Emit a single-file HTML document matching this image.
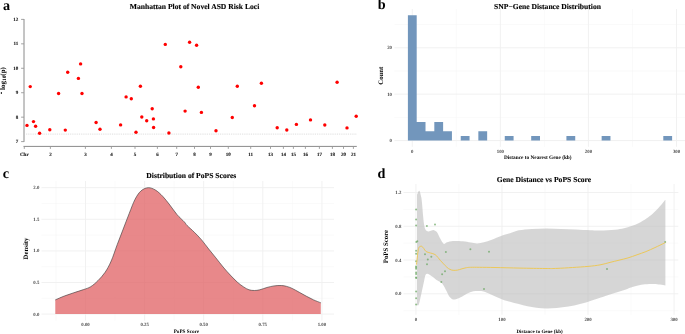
<!DOCTYPE html>
<html><head><meta charset="utf-8"><style>
html,body{margin:0;padding:0;background:#fff;width:685px;height:334px;overflow:hidden}
svg{display:block;will-change:transform}
text{font-family:"Liberation Serif",serif;text-rendering:geometricPrecision}
</style></head><body>
<svg width="685" height="334" viewBox="0 0 685 334">
<rect width="685" height="334" fill="#fff"/>
<text x="3.10" y="9.50" font-size="14.2" text-anchor="start" font-weight="bold" fill="#000">a</text>
<text x="194.50" y="8.70" font-size="7.6" text-anchor="middle" font-weight="bold" fill="#000" stroke="#000" stroke-width="0.12">Manhattan Plot of Novel ASD Risk Loci</text>
<line x1="24.00" y1="19.00" x2="24.00" y2="141.90" stroke="#8a8a8a" stroke-width="1.0" />
<line x1="21.10" y1="141.60" x2="24.00" y2="141.60" stroke="#999" stroke-width="0.9" />
<text x="18.30" y="143.10" font-size="5.0" text-anchor="end" font-weight="bold" fill="#1a1a1a" stroke="#1a1a1a" stroke-width="0.12">7</text>
<line x1="21.10" y1="117.16" x2="24.00" y2="117.16" stroke="#999" stroke-width="0.9" />
<text x="18.30" y="118.66" font-size="5.0" text-anchor="end" font-weight="bold" fill="#1a1a1a" stroke="#1a1a1a" stroke-width="0.12">8</text>
<line x1="21.10" y1="92.72" x2="24.00" y2="92.72" stroke="#999" stroke-width="0.9" />
<text x="18.30" y="94.22" font-size="5.0" text-anchor="end" font-weight="bold" fill="#1a1a1a" stroke="#1a1a1a" stroke-width="0.12">9</text>
<line x1="21.10" y1="68.28" x2="24.00" y2="68.28" stroke="#999" stroke-width="0.9" />
<text x="18.30" y="69.78" font-size="5.0" text-anchor="end" font-weight="bold" fill="#1a1a1a" stroke="#1a1a1a" stroke-width="0.12">10</text>
<line x1="21.10" y1="43.84" x2="24.00" y2="43.84" stroke="#999" stroke-width="0.9" />
<text x="18.30" y="45.34" font-size="5.0" text-anchor="end" font-weight="bold" fill="#1a1a1a" stroke="#1a1a1a" stroke-width="0.12">11</text>
<line x1="21.10" y1="19.40" x2="24.00" y2="19.40" stroke="#999" stroke-width="0.9" />
<text x="18.30" y="20.90" font-size="5.0" text-anchor="end" font-weight="bold" fill="#1a1a1a" stroke="#1a1a1a" stroke-width="0.12">12</text>
<line x1="23.50" y1="146.40" x2="356.80" y2="146.40" stroke="#8a8a8a" stroke-width="1.0" />
<line x1="24.30" y1="146.40" x2="24.30" y2="148.90" stroke="#999" stroke-width="0.9" />
<text x="24.30" y="156.20" font-size="5.0" text-anchor="middle" font-weight="bold" fill="#1a1a1a" stroke="#1a1a1a" stroke-width="0.12">Chr</text>
<line x1="50.40" y1="146.40" x2="50.40" y2="148.90" stroke="#999" stroke-width="0.9" />
<text x="50.40" y="156.20" font-size="5.0" text-anchor="middle" font-weight="bold" fill="#1a1a1a" stroke="#1a1a1a" stroke-width="0.12">2</text>
<line x1="85.40" y1="146.40" x2="85.40" y2="148.90" stroke="#999" stroke-width="0.9" />
<text x="85.40" y="156.20" font-size="5.0" text-anchor="middle" font-weight="bold" fill="#1a1a1a" stroke="#1a1a1a" stroke-width="0.12">3</text>
<line x1="111.40" y1="146.40" x2="111.40" y2="148.90" stroke="#999" stroke-width="0.9" />
<text x="111.40" y="156.20" font-size="5.0" text-anchor="middle" font-weight="bold" fill="#1a1a1a" stroke="#1a1a1a" stroke-width="0.12">4</text>
<line x1="135.00" y1="146.40" x2="135.00" y2="148.90" stroke="#999" stroke-width="0.9" />
<text x="135.00" y="156.20" font-size="5.0" text-anchor="middle" font-weight="bold" fill="#1a1a1a" stroke="#1a1a1a" stroke-width="0.12">5</text>
<line x1="157.40" y1="146.40" x2="157.40" y2="148.90" stroke="#999" stroke-width="0.9" />
<text x="157.40" y="156.20" font-size="5.0" text-anchor="middle" font-weight="bold" fill="#1a1a1a" stroke="#1a1a1a" stroke-width="0.12">6</text>
<line x1="176.70" y1="146.40" x2="176.70" y2="148.90" stroke="#999" stroke-width="0.9" />
<text x="176.70" y="156.20" font-size="5.0" text-anchor="middle" font-weight="bold" fill="#1a1a1a" stroke="#1a1a1a" stroke-width="0.12">7</text>
<line x1="194.50" y1="146.40" x2="194.50" y2="148.90" stroke="#999" stroke-width="0.9" />
<text x="194.50" y="156.20" font-size="5.0" text-anchor="middle" font-weight="bold" fill="#1a1a1a" stroke="#1a1a1a" stroke-width="0.12">8</text>
<line x1="210.50" y1="146.40" x2="210.50" y2="148.90" stroke="#999" stroke-width="0.9" />
<text x="210.50" y="156.20" font-size="5.0" text-anchor="middle" font-weight="bold" fill="#1a1a1a" stroke="#1a1a1a" stroke-width="0.12">9</text>
<line x1="228.30" y1="146.40" x2="228.30" y2="148.90" stroke="#999" stroke-width="0.9" />
<text x="228.30" y="156.20" font-size="5.0" text-anchor="middle" font-weight="bold" fill="#1a1a1a" stroke="#1a1a1a" stroke-width="0.12">10</text>
<line x1="250.70" y1="146.40" x2="250.70" y2="148.90" stroke="#999" stroke-width="0.9" />
<text x="250.70" y="156.20" font-size="5.0" text-anchor="middle" font-weight="bold" fill="#1a1a1a" stroke="#1a1a1a" stroke-width="0.12">11</text>
<line x1="270.50" y1="146.40" x2="270.50" y2="148.90" stroke="#999" stroke-width="0.9" />
<text x="270.50" y="156.20" font-size="5.0" text-anchor="middle" font-weight="bold" fill="#1a1a1a" stroke="#1a1a1a" stroke-width="0.12">13</text>
<line x1="283.40" y1="146.40" x2="283.40" y2="148.90" stroke="#999" stroke-width="0.9" />
<text x="283.40" y="156.20" font-size="5.0" text-anchor="middle" font-weight="bold" fill="#1a1a1a" stroke="#1a1a1a" stroke-width="0.12">14</text>
<line x1="293.40" y1="146.40" x2="293.40" y2="148.90" stroke="#999" stroke-width="0.9" />
<text x="293.40" y="156.20" font-size="5.0" text-anchor="middle" font-weight="bold" fill="#1a1a1a" stroke="#1a1a1a" stroke-width="0.12">15</text>
<line x1="305.40" y1="146.40" x2="305.40" y2="148.90" stroke="#999" stroke-width="0.9" />
<text x="305.40" y="156.20" font-size="5.0" text-anchor="middle" font-weight="bold" fill="#1a1a1a" stroke="#1a1a1a" stroke-width="0.12">16</text>
<line x1="319.40" y1="146.40" x2="319.40" y2="148.90" stroke="#999" stroke-width="0.9" />
<text x="319.40" y="156.20" font-size="5.0" text-anchor="middle" font-weight="bold" fill="#1a1a1a" stroke="#1a1a1a" stroke-width="0.12">17</text>
<line x1="332.40" y1="146.40" x2="332.40" y2="148.90" stroke="#999" stroke-width="0.9" />
<text x="332.40" y="156.20" font-size="5.0" text-anchor="middle" font-weight="bold" fill="#1a1a1a" stroke="#1a1a1a" stroke-width="0.12">18</text>
<line x1="343.50" y1="146.40" x2="343.50" y2="148.90" stroke="#999" stroke-width="0.9" />
<text x="343.50" y="156.20" font-size="5.0" text-anchor="middle" font-weight="bold" fill="#1a1a1a" stroke="#1a1a1a" stroke-width="0.12">20</text>
<line x1="353.40" y1="146.40" x2="353.40" y2="148.90" stroke="#999" stroke-width="0.9" />
<text x="353.40" y="156.20" font-size="5.0" text-anchor="middle" font-weight="bold" fill="#1a1a1a" stroke="#1a1a1a" stroke-width="0.12">21</text>
<line x1="26.00" y1="134.10" x2="356.50" y2="134.10" stroke="#d0d0d0" stroke-width="0.8" stroke-dasharray="0.9 0.93"/>
<text x="4.9" y="89.9" font-size="7" font-weight="bold" fill="#000" transform="rotate(-90 4.9 89.9)">log<tspan font-size="5.3" dy="0.8">10</tspan><tspan dy="-0.8">(p)</tspan></text>
<line x1="1.35" y1="92.0" x2="1.35" y2="94.0" stroke="#000" stroke-width="0.9"/>
<circle cx="27.0" cy="125.4" r="1.7" fill="#ff0000"/>
<circle cx="30.25" cy="86.6" r="1.7" fill="#ff0000"/>
<circle cx="33.5" cy="121.6" r="1.7" fill="#ff0000"/>
<circle cx="35.6" cy="126.3" r="1.7" fill="#ff0000"/>
<circle cx="39.6" cy="133.3" r="1.7" fill="#ff0000"/>
<circle cx="49.8" cy="129.7" r="1.7" fill="#ff0000"/>
<circle cx="58.6" cy="93.5" r="1.7" fill="#ff0000"/>
<circle cx="65.3" cy="130.1" r="1.7" fill="#ff0000"/>
<circle cx="67.7" cy="72.2" r="1.7" fill="#ff0000"/>
<circle cx="78.4" cy="78.4" r="1.7" fill="#ff0000"/>
<circle cx="80.6" cy="63.9" r="1.7" fill="#ff0000"/>
<circle cx="82.0" cy="93.5" r="1.7" fill="#ff0000"/>
<circle cx="96.1" cy="122.5" r="1.7" fill="#ff0000"/>
<circle cx="100.0" cy="129.2" r="1.7" fill="#ff0000"/>
<circle cx="120.6" cy="124.9" r="1.7" fill="#ff0000"/>
<circle cx="126.1" cy="96.9" r="1.7" fill="#ff0000"/>
<circle cx="131.3" cy="98.8" r="1.7" fill="#ff0000"/>
<circle cx="136.0" cy="132.2" r="1.7" fill="#ff0000"/>
<circle cx="140.4" cy="86.3" r="1.7" fill="#ff0000"/>
<circle cx="141.8" cy="117.0" r="1.7" fill="#ff0000"/>
<circle cx="146.7" cy="120.7" r="1.7" fill="#ff0000"/>
<circle cx="152.2" cy="108.7" r="1.7" fill="#ff0000"/>
<circle cx="153.4" cy="118.9" r="1.7" fill="#ff0000"/>
<circle cx="153.6" cy="127.5" r="1.7" fill="#ff0000"/>
<circle cx="165.3" cy="44.4" r="1.7" fill="#ff0000"/>
<circle cx="168.9" cy="133.0" r="1.7" fill="#ff0000"/>
<circle cx="180.8" cy="66.8" r="1.7" fill="#ff0000"/>
<circle cx="185.1" cy="111.1" r="1.7" fill="#ff0000"/>
<circle cx="189.6" cy="42.2" r="1.7" fill="#ff0000"/>
<circle cx="196.6" cy="45.3" r="1.7" fill="#ff0000"/>
<circle cx="198.3" cy="87.3" r="1.7" fill="#ff0000"/>
<circle cx="201.4" cy="112.4" r="1.7" fill="#ff0000"/>
<circle cx="216.0" cy="130.8" r="1.7" fill="#ff0000"/>
<circle cx="232.3" cy="117.5" r="1.7" fill="#ff0000"/>
<circle cx="237.3" cy="86.3" r="1.7" fill="#ff0000"/>
<circle cx="254.5" cy="105.8" r="1.7" fill="#ff0000"/>
<circle cx="261.4" cy="83.2" r="1.7" fill="#ff0000"/>
<circle cx="277.2" cy="127.7" r="1.7" fill="#ff0000"/>
<circle cx="286.8" cy="130.0" r="1.7" fill="#ff0000"/>
<circle cx="296.4" cy="124.4" r="1.7" fill="#ff0000"/>
<circle cx="310.5" cy="119.9" r="1.7" fill="#ff0000"/>
<circle cx="324.8" cy="125.0" r="1.7" fill="#ff0000"/>
<circle cx="337.1" cy="82.2" r="1.7" fill="#ff0000"/>
<circle cx="347.0" cy="127.9" r="1.7" fill="#ff0000"/>
<circle cx="356.2" cy="116.2" r="1.7" fill="#ff0000"/>
<text x="377.70" y="9.40" font-size="14.2" text-anchor="start" font-weight="bold" fill="#000">b</text>
<text x="547.50" y="8.60" font-size="7.6" text-anchor="middle" font-weight="bold" fill="#000" stroke="#000" stroke-width="0.12">SNP−Gene Distance Distribution</text>
<line x1="394.40" y1="117.35" x2="685.50" y2="117.35" stroke="#f5f5f5" stroke-width="0.5" />
<line x1="394.40" y1="70.95" x2="685.50" y2="70.95" stroke="#f5f5f5" stroke-width="0.5" />
<line x1="394.40" y1="24.55" x2="685.50" y2="24.55" stroke="#f5f5f5" stroke-width="0.5" />
<line x1="456.34" y1="9.00" x2="456.34" y2="146.80" stroke="#f5f5f5" stroke-width="0.5" />
<line x1="544.40" y1="9.00" x2="544.40" y2="146.80" stroke="#f5f5f5" stroke-width="0.5" />
<line x1="632.48" y1="9.00" x2="632.48" y2="146.80" stroke="#f5f5f5" stroke-width="0.5" />
<line x1="394.40" y1="140.55" x2="685.50" y2="140.55" stroke="#efefef" stroke-width="0.9" />
<text x="392.00" y="142.05" font-size="4.8" text-anchor="end" font-weight="bold" fill="#4d4d4d">0</text>
<line x1="394.40" y1="94.15" x2="685.50" y2="94.15" stroke="#efefef" stroke-width="0.9" />
<text x="392.00" y="95.65" font-size="4.8" text-anchor="end" font-weight="bold" fill="#4d4d4d">10</text>
<line x1="394.40" y1="47.75" x2="685.50" y2="47.75" stroke="#efefef" stroke-width="0.9" />
<text x="392.00" y="49.25" font-size="4.8" text-anchor="end" font-weight="bold" fill="#4d4d4d">20</text>
<line x1="412.30" y1="9.00" x2="412.30" y2="146.80" stroke="#efefef" stroke-width="0.9" />
<text x="412.30" y="152.80" font-size="4.8" text-anchor="middle" font-weight="bold" fill="#4d4d4d">0</text>
<line x1="500.37" y1="9.00" x2="500.37" y2="146.80" stroke="#efefef" stroke-width="0.9" />
<text x="500.37" y="152.80" font-size="4.8" text-anchor="middle" font-weight="bold" fill="#4d4d4d">100</text>
<line x1="588.44" y1="9.00" x2="588.44" y2="146.80" stroke="#efefef" stroke-width="0.9" />
<text x="588.44" y="152.80" font-size="4.8" text-anchor="middle" font-weight="bold" fill="#4d4d4d">200</text>
<line x1="676.51" y1="9.00" x2="676.51" y2="146.80" stroke="#efefef" stroke-width="0.9" />
<text x="676.51" y="152.80" font-size="4.8" text-anchor="middle" font-weight="bold" fill="#4d4d4d">300</text>
<path d="M407.90,140.55 V15.27 H416.70 V140.55 Z M416.70,140.55 V121.99 H425.51 V140.55 Z M425.51,140.55 V131.27 H434.32 V140.55 Z M434.32,140.55 V121.99 H443.12 V140.55 Z M443.12,140.55 V131.27 H451.93 V140.55 Z M460.74,140.55 V135.91 H469.55 V140.55 Z M478.35,140.55 V131.27 H487.16 V140.55 Z M504.77,140.55 V135.91 H513.58 V140.55 Z M531.19,140.55 V135.91 H540.00 V140.55 Z M566.42,140.55 V135.91 H575.23 V140.55 Z M601.65,140.55 V135.91 H610.46 V140.55 Z M663.30,140.55 V135.91 H672.11 V140.55 Z" fill="#7296bc"/>
<text x="537.80" y="158.70" font-size="5.3" text-anchor="middle" font-weight="bold" fill="#000">Distance to Nearest Gene (kb)</text>
<text x="383.40" y="75.70" font-size="6.8" text-anchor="middle" font-weight="bold" fill="#000" transform="rotate(-90 383.4 75.7)">Count</text>
<text x="2.70" y="178.00" font-size="14.2" text-anchor="start" font-weight="bold" fill="#000">c</text>
<text x="191.30" y="178.40" font-size="7.6" text-anchor="middle" font-weight="bold" fill="#000" stroke="#000" stroke-width="0.12">Distribution of PoPS Scores</text>
<line x1="41.50" y1="298.30" x2="334.00" y2="298.30" stroke="#f5f5f5" stroke-width="0.5" />
<line x1="41.50" y1="266.70" x2="334.00" y2="266.70" stroke="#f5f5f5" stroke-width="0.5" />
<line x1="41.50" y1="235.10" x2="334.00" y2="235.10" stroke="#f5f5f5" stroke-width="0.5" />
<line x1="41.50" y1="203.50" x2="334.00" y2="203.50" stroke="#f5f5f5" stroke-width="0.5" />
<line x1="55.95" y1="181.00" x2="55.95" y2="320.60" stroke="#f5f5f5" stroke-width="0.5" />
<line x1="115.05" y1="181.00" x2="115.05" y2="320.60" stroke="#f5f5f5" stroke-width="0.5" />
<line x1="174.15" y1="181.00" x2="174.15" y2="320.60" stroke="#f5f5f5" stroke-width="0.5" />
<line x1="233.25" y1="181.00" x2="233.25" y2="320.60" stroke="#f5f5f5" stroke-width="0.5" />
<line x1="292.35" y1="181.00" x2="292.35" y2="320.60" stroke="#f5f5f5" stroke-width="0.5" />
<line x1="41.50" y1="314.10" x2="334.00" y2="314.10" stroke="#efefef" stroke-width="0.9" />
<text x="39.30" y="315.60" font-size="4.8" text-anchor="end" font-weight="bold" fill="#4d4d4d">0.0</text>
<line x1="41.50" y1="282.50" x2="334.00" y2="282.50" stroke="#efefef" stroke-width="0.9" />
<text x="39.30" y="284.00" font-size="4.8" text-anchor="end" font-weight="bold" fill="#4d4d4d">0.5</text>
<line x1="41.50" y1="250.90" x2="334.00" y2="250.90" stroke="#efefef" stroke-width="0.9" />
<text x="39.30" y="252.40" font-size="4.8" text-anchor="end" font-weight="bold" fill="#4d4d4d">1.0</text>
<line x1="41.50" y1="219.30" x2="334.00" y2="219.30" stroke="#efefef" stroke-width="0.9" />
<text x="39.30" y="220.80" font-size="4.8" text-anchor="end" font-weight="bold" fill="#4d4d4d">1.5</text>
<line x1="41.50" y1="187.70" x2="334.00" y2="187.70" stroke="#efefef" stroke-width="0.9" />
<text x="39.30" y="189.20" font-size="4.8" text-anchor="end" font-weight="bold" fill="#4d4d4d">2.0</text>
<line x1="85.50" y1="181.00" x2="85.50" y2="320.60" stroke="#efefef" stroke-width="0.9" />
<text x="85.50" y="326.30" font-size="4.8" text-anchor="middle" font-weight="bold" fill="#4d4d4d">0.00</text>
<line x1="144.60" y1="181.00" x2="144.60" y2="320.60" stroke="#efefef" stroke-width="0.9" />
<text x="144.60" y="326.30" font-size="4.8" text-anchor="middle" font-weight="bold" fill="#4d4d4d">0.25</text>
<line x1="203.70" y1="181.00" x2="203.70" y2="320.60" stroke="#efefef" stroke-width="0.9" />
<text x="203.70" y="326.30" font-size="4.8" text-anchor="middle" font-weight="bold" fill="#4d4d4d">0.50</text>
<line x1="262.80" y1="181.00" x2="262.80" y2="320.60" stroke="#efefef" stroke-width="0.9" />
<text x="262.80" y="326.30" font-size="4.8" text-anchor="middle" font-weight="bold" fill="#4d4d4d">0.75</text>
<line x1="321.90" y1="181.00" x2="321.90" y2="320.60" stroke="#efefef" stroke-width="0.9" />
<text x="321.90" y="326.30" font-size="4.8" text-anchor="middle" font-weight="bold" fill="#4d4d4d">1.00</text>
<path d="M55.3,299.9 C56.82,299.25 61.28,297.20 64.40,296.00 C67.52,294.80 70.82,293.77 74.00,292.70 C77.18,291.63 80.72,290.60 83.50,289.60 C86.28,288.60 88.30,288.18 90.70,286.70 C93.10,285.22 95.50,283.10 97.90,280.70 C100.30,278.30 102.88,275.58 105.10,272.30 C107.32,269.02 109.18,265.60 111.20,261.00 C113.22,256.40 115.20,250.02 117.20,244.70 C119.20,239.38 121.20,234.30 123.20,229.10 C125.20,223.90 127.22,218.48 129.20,213.50 C131.18,208.52 133.12,202.98 135.10,199.20 C137.08,195.42 138.90,192.72 141.10,190.80 C143.30,188.88 145.90,187.82 148.30,187.70 C150.70,187.58 153.10,188.67 155.50,190.10 C157.90,191.53 160.30,193.80 162.70,196.30 C165.10,198.80 167.50,202.03 169.90,205.10 C172.30,208.17 174.70,211.90 177.10,214.70 C179.50,217.50 182.62,220.08 184.30,221.90 C185.98,223.72 185.52,223.87 187.20,225.60 C188.88,227.33 192.00,229.92 194.40,232.30 C196.80,234.68 199.22,237.12 201.60,239.90 C203.98,242.68 206.32,246.00 208.70,249.00 C211.08,252.00 213.50,254.90 215.90,257.90 C218.30,260.90 220.70,264.13 223.10,267.00 C225.50,269.87 227.90,272.55 230.30,275.10 C232.70,277.65 235.28,280.33 237.50,282.30 C239.72,284.27 241.68,285.65 243.60,286.90 C245.52,288.15 247.20,289.20 249.00,289.80 C250.80,290.40 252.60,290.50 254.40,290.50 C256.20,290.50 257.72,290.30 259.80,289.80 C261.88,289.30 264.52,288.15 266.90,287.50 C269.28,286.85 271.70,286.23 274.10,285.90 C276.50,285.57 279.20,285.42 281.30,285.50 C283.40,285.58 284.90,285.92 286.70,286.40 C288.50,286.88 290.00,287.42 292.10,288.40 C294.20,289.38 296.90,290.98 299.30,292.30 C301.70,293.62 304.12,295.03 306.50,296.30 C308.88,297.57 311.22,298.82 313.60,299.90 C315.98,300.98 319.60,302.32 320.80,302.80 L320.8,314.1 L55.3,314.1 Z" fill="#e06063" fill-opacity="0.75"/>
<path d="M55.3,299.9 C56.82,299.25 61.28,297.20 64.40,296.00 C67.52,294.80 70.82,293.77 74.00,292.70 C77.18,291.63 80.72,290.60 83.50,289.60 C86.28,288.60 88.30,288.18 90.70,286.70 C93.10,285.22 95.50,283.10 97.90,280.70 C100.30,278.30 102.88,275.58 105.10,272.30 C107.32,269.02 109.18,265.60 111.20,261.00 C113.22,256.40 115.20,250.02 117.20,244.70 C119.20,239.38 121.20,234.30 123.20,229.10 C125.20,223.90 127.22,218.48 129.20,213.50 C131.18,208.52 133.12,202.98 135.10,199.20 C137.08,195.42 138.90,192.72 141.10,190.80 C143.30,188.88 145.90,187.82 148.30,187.70 C150.70,187.58 153.10,188.67 155.50,190.10 C157.90,191.53 160.30,193.80 162.70,196.30 C165.10,198.80 167.50,202.03 169.90,205.10 C172.30,208.17 174.70,211.90 177.10,214.70 C179.50,217.50 182.62,220.08 184.30,221.90 C185.98,223.72 185.52,223.87 187.20,225.60 C188.88,227.33 192.00,229.92 194.40,232.30 C196.80,234.68 199.22,237.12 201.60,239.90 C203.98,242.68 206.32,246.00 208.70,249.00 C211.08,252.00 213.50,254.90 215.90,257.90 C218.30,260.90 220.70,264.13 223.10,267.00 C225.50,269.87 227.90,272.55 230.30,275.10 C232.70,277.65 235.28,280.33 237.50,282.30 C239.72,284.27 241.68,285.65 243.60,286.90 C245.52,288.15 247.20,289.20 249.00,289.80 C250.80,290.40 252.60,290.50 254.40,290.50 C256.20,290.50 257.72,290.30 259.80,289.80 C261.88,289.30 264.52,288.15 266.90,287.50 C269.28,286.85 271.70,286.23 274.10,285.90 C276.50,285.57 279.20,285.42 281.30,285.50 C283.40,285.58 284.90,285.92 286.70,286.40 C288.50,286.88 290.00,287.42 292.10,288.40 C294.20,289.38 296.90,290.98 299.30,292.30 C301.70,293.62 304.12,295.03 306.50,296.30 C308.88,297.57 311.22,298.82 313.60,299.90 C315.98,300.98 319.60,302.32 320.80,302.80" fill="none" stroke="#333" stroke-width="0.6"/>
<text x="186.40" y="332.50" font-size="5.2" text-anchor="middle" font-weight="bold" fill="#000">PoPS Score</text>
<text x="28.00" y="248.50" font-size="6.8" text-anchor="middle" font-weight="bold" fill="#000" transform="rotate(-90 28.0 248.5)">Density</text>
<text x="377.60" y="177.80" font-size="14.2" text-anchor="start" font-weight="bold" fill="#000">d</text>
<text x="544.00" y="182.40" font-size="7.6" text-anchor="middle" font-weight="bold" fill="#000" stroke="#000" stroke-width="0.12">Gene Distance vs PoPS Score</text>
<line x1="403.50" y1="310.68" x2="678.30" y2="310.68" stroke="#f5f5f5" stroke-width="0.5" />
<line x1="403.50" y1="276.92" x2="678.30" y2="276.92" stroke="#f5f5f5" stroke-width="0.5" />
<line x1="403.50" y1="243.16" x2="678.30" y2="243.16" stroke="#f5f5f5" stroke-width="0.5" />
<line x1="403.50" y1="209.40" x2="678.30" y2="209.40" stroke="#f5f5f5" stroke-width="0.5" />
<line x1="458.92" y1="184.00" x2="458.92" y2="314.80" stroke="#f5f5f5" stroke-width="0.5" />
<line x1="544.98" y1="184.00" x2="544.98" y2="314.80" stroke="#f5f5f5" stroke-width="0.5" />
<line x1="631.02" y1="184.00" x2="631.02" y2="314.80" stroke="#f5f5f5" stroke-width="0.5" />
<line x1="403.50" y1="293.80" x2="678.30" y2="293.80" stroke="#efefef" stroke-width="0.9" />
<text x="401.30" y="295.30" font-size="4.8" text-anchor="end" font-weight="bold" fill="#4d4d4d">0.0</text>
<line x1="403.50" y1="260.04" x2="678.30" y2="260.04" stroke="#efefef" stroke-width="0.9" />
<text x="401.30" y="261.54" font-size="4.8" text-anchor="end" font-weight="bold" fill="#4d4d4d">0.4</text>
<line x1="403.50" y1="226.28" x2="678.30" y2="226.28" stroke="#efefef" stroke-width="0.9" />
<text x="401.30" y="227.78" font-size="4.8" text-anchor="end" font-weight="bold" fill="#4d4d4d">0.8</text>
<line x1="403.50" y1="192.52" x2="678.30" y2="192.52" stroke="#efefef" stroke-width="0.9" />
<text x="401.30" y="194.02" font-size="4.8" text-anchor="end" font-weight="bold" fill="#4d4d4d">1.2</text>
<line x1="415.90" y1="184.00" x2="415.90" y2="314.80" stroke="#efefef" stroke-width="0.9" />
<text x="415.90" y="320.50" font-size="4.8" text-anchor="middle" font-weight="bold" fill="#4d4d4d">0</text>
<line x1="501.95" y1="184.00" x2="501.95" y2="314.80" stroke="#efefef" stroke-width="0.9" />
<text x="501.95" y="320.50" font-size="4.8" text-anchor="middle" font-weight="bold" fill="#4d4d4d">100</text>
<line x1="588.00" y1="184.00" x2="588.00" y2="314.80" stroke="#efefef" stroke-width="0.9" />
<text x="588.00" y="320.50" font-size="4.8" text-anchor="middle" font-weight="bold" fill="#4d4d4d">200</text>
<line x1="674.05" y1="184.00" x2="674.05" y2="314.80" stroke="#efefef" stroke-width="0.9" />
<text x="674.05" y="320.50" font-size="4.8" text-anchor="middle" font-weight="bold" fill="#4d4d4d">300</text>
<path d="M417.0,194.8 C417.38,194.13 418.60,190.43 419.30,190.80 C420.00,191.17 420.75,194.97 421.20,197.00 C421.65,199.03 421.70,200.00 422.00,203.00 C422.30,206.00 422.67,211.50 423.00,215.00 C423.33,218.50 423.67,221.77 424.00,224.00 C424.33,226.23 424.58,227.28 425.00,228.40 C425.42,229.52 425.88,230.18 426.50,230.70 C427.12,231.22 427.87,231.52 428.70,231.50 C429.53,231.48 430.63,230.82 431.50,230.60 C432.37,230.38 432.95,229.88 433.90,230.20 C434.85,230.52 436.10,231.02 437.20,232.50 C438.30,233.98 439.40,237.20 440.50,239.10 C441.60,241.00 442.72,243.37 443.80,243.90 C444.88,244.43 445.47,242.78 447.00,242.30 C448.53,241.82 450.35,241.17 453.00,241.00 C455.65,240.83 459.95,241.03 462.90,241.30 C465.85,241.57 468.30,242.25 470.70,242.60 C473.10,242.95 475.10,243.45 477.30,243.40 C479.50,243.35 481.48,242.92 483.90,242.30 C486.32,241.68 488.73,240.83 491.80,239.70 C494.87,238.57 499.27,236.58 502.30,235.50 C505.33,234.42 507.25,234.07 510.00,233.20 C512.75,232.33 515.15,231.02 518.80,230.30 C522.45,229.58 527.28,229.22 531.90,228.90 C536.52,228.58 541.63,228.40 546.50,228.40 C551.37,228.40 556.23,228.70 561.10,228.90 C565.97,229.10 570.83,229.37 575.70,229.60 C580.57,229.83 586.25,230.15 590.30,230.30 C594.35,230.45 595.88,230.60 600.00,230.50 C604.12,230.40 611.00,230.08 615.00,229.70 C619.00,229.32 621.25,228.82 624.00,228.20 C626.75,227.58 629.00,226.87 631.50,226.00 C634.00,225.13 636.52,224.25 639.00,223.00 C641.48,221.75 644.17,220.00 646.40,218.50 C648.63,217.00 650.40,215.75 652.40,214.00 C654.40,212.25 656.65,209.88 658.40,208.00 C660.15,206.12 661.73,204.07 662.90,202.70 C664.07,201.33 664.98,200.28 665.40,199.80 L665.4,285.5 C664.50,285.33 661.92,284.77 660.00,284.50 C658.08,284.23 656.40,283.93 653.90,283.90 C651.40,283.87 647.65,284.03 645.00,284.30 C642.35,284.57 640.10,285.05 638.00,285.50 C635.90,285.95 634.20,286.43 632.40,287.00 C630.60,287.57 629.60,288.07 627.20,288.90 C624.80,289.73 620.87,291.05 618.00,292.00 C615.13,292.95 612.43,293.80 610.00,294.60 C607.57,295.40 606.43,295.83 603.40,296.80 C600.37,297.77 595.70,299.18 591.80,300.40 C587.90,301.62 583.90,303.07 580.00,304.10 C576.10,305.13 572.28,305.95 568.40,306.60 C564.52,307.25 560.35,307.68 556.70,308.00 C553.05,308.32 549.90,308.55 546.50,308.50 C543.10,308.45 539.47,308.07 536.30,307.70 C533.13,307.33 530.42,306.90 527.50,306.30 C524.58,305.70 521.72,304.85 518.80,304.10 C515.88,303.35 512.75,302.55 510.00,301.80 C507.25,301.05 505.12,300.63 502.30,299.60 C499.48,298.57 495.95,296.85 493.10,295.60 C490.25,294.35 487.40,292.87 485.20,292.10 C483.00,291.33 481.87,291.13 479.90,291.00 C477.93,290.87 475.58,290.85 473.40,291.30 C471.22,291.75 469.00,292.65 466.80,293.70 C464.60,294.75 462.28,296.62 460.20,297.60 C458.12,298.58 456.05,299.72 454.30,299.60 C452.55,299.48 451.12,298.55 449.70,296.90 C448.28,295.25 447.12,292.00 445.80,289.70 C444.48,287.40 443.33,284.73 441.80,283.10 C440.27,281.47 438.33,281.08 436.60,279.90 C434.87,278.72 432.82,276.98 431.40,276.00 C429.98,275.02 429.07,274.20 428.10,274.00 C427.13,273.80 426.28,273.57 425.60,274.80 C424.92,276.03 424.68,278.38 424.00,281.40 C423.32,284.42 422.37,289.03 421.50,292.90 C420.63,296.77 419.55,302.58 418.80,304.60 C418.05,306.62 417.30,304.93 417.00,305.00 Z" fill="#bbbbbb" fill-opacity="0.6"/>
<circle cx="416.1" cy="209.6" r="1.0" fill="#66a55e" fill-opacity="0.7"/>
<circle cx="416.1" cy="219.4" r="1.0" fill="#66a55e" fill-opacity="0.7"/>
<circle cx="416.1" cy="225.4" r="1.0" fill="#66a55e" fill-opacity="0.7"/>
<circle cx="416.3" cy="241.9" r="1.0" fill="#66a55e" fill-opacity="0.7"/>
<circle cx="417.3" cy="241.2" r="1.0" fill="#66a55e" fill-opacity="0.7"/>
<circle cx="416.1" cy="250.8" r="1.0" fill="#66a55e" fill-opacity="0.7"/>
<circle cx="416.1" cy="253.8" r="1.0" fill="#66a55e" fill-opacity="0.7"/>
<circle cx="416.1" cy="261.3" r="1.0" fill="#66a55e" fill-opacity="0.7"/>
<circle cx="416.1" cy="266.4" r="1.0" fill="#66a55e" fill-opacity="0.7"/>
<circle cx="416.1" cy="267.6" r="1.0" fill="#66a55e" fill-opacity="0.7"/>
<circle cx="416.1" cy="268.8" r="1.0" fill="#66a55e" fill-opacity="0.7"/>
<circle cx="416.1" cy="272.4" r="1.0" fill="#66a55e" fill-opacity="0.7"/>
<circle cx="416.1" cy="273.9" r="1.0" fill="#66a55e" fill-opacity="0.7"/>
<circle cx="416.1" cy="277.6" r="1.0" fill="#66a55e" fill-opacity="0.7"/>
<circle cx="416.2" cy="277.9" r="1.0" fill="#66a55e" fill-opacity="0.7"/>
<circle cx="416.1" cy="291.6" r="1.0" fill="#66a55e" fill-opacity="0.7"/>
<circle cx="416.1" cy="298.2" r="1.0" fill="#66a55e" fill-opacity="0.7"/>
<circle cx="416.1" cy="304.5" r="1.0" fill="#66a55e" fill-opacity="0.7"/>
<circle cx="425" cy="254.2" r="1.0" fill="#66a55e" fill-opacity="0.7"/>
<circle cx="427.8" cy="259.5" r="1.0" fill="#66a55e" fill-opacity="0.7"/>
<circle cx="431.3" cy="256.8" r="1.0" fill="#66a55e" fill-opacity="0.7"/>
<circle cx="427" cy="264.3" r="1.0" fill="#66a55e" fill-opacity="0.7"/>
<circle cx="426.9" cy="225.9" r="1.0" fill="#66a55e" fill-opacity="0.7"/>
<circle cx="435" cy="224.5" r="1.0" fill="#66a55e" fill-opacity="0.7"/>
<circle cx="445.9" cy="252.1" r="1.0" fill="#66a55e" fill-opacity="0.7"/>
<circle cx="445" cy="271.3" r="1.0" fill="#66a55e" fill-opacity="0.7"/>
<circle cx="442.1" cy="274.3" r="1.0" fill="#66a55e" fill-opacity="0.7"/>
<circle cx="441.3" cy="282" r="1.0" fill="#66a55e" fill-opacity="0.7"/>
<circle cx="470.4" cy="249.3" r="1.0" fill="#66a55e" fill-opacity="0.7"/>
<circle cx="489" cy="251.7" r="1.0" fill="#66a55e" fill-opacity="0.7"/>
<circle cx="484" cy="289" r="1.0" fill="#66a55e" fill-opacity="0.7"/>
<circle cx="607" cy="268.9" r="1.0" fill="#66a55e" fill-opacity="0.7"/>
<circle cx="665.2" cy="242.1" r="1.0" fill="#66a55e" fill-opacity="0.7"/>
<path d="M416.5,264.6 C416.72,262.67 417.42,255.80 417.80,253.00 C418.18,250.20 418.43,248.88 418.80,247.80 C419.17,246.72 419.50,246.75 420.00,246.50 C420.50,246.25 421.17,245.97 421.80,246.30 C422.43,246.63 423.10,247.63 423.80,248.50 C424.50,249.37 424.88,250.75 426.00,251.50 C427.12,252.25 429.00,252.50 430.50,253.00 C432.00,253.50 433.75,253.75 435.00,254.50 C436.25,255.25 437.08,256.48 438.00,257.50 C438.92,258.52 439.58,259.55 440.50,260.60 C441.42,261.65 442.42,262.67 443.50,263.80 C444.58,264.93 445.92,266.47 447.00,267.40 C448.08,268.33 448.98,268.92 450.00,269.40 C451.02,269.88 451.85,270.18 453.10,270.30 C454.35,270.42 456.03,270.35 457.50,270.10 C458.97,269.85 460.43,269.20 461.90,268.80 C463.37,268.40 464.85,267.95 466.30,267.70 C467.75,267.45 468.42,267.37 470.60,267.30 C472.78,267.23 475.33,267.27 479.40,267.30 C483.47,267.33 488.23,267.37 495.00,267.50 C501.77,267.63 511.67,267.93 520.00,268.10 C528.33,268.27 538.83,268.45 545.00,268.50 C551.17,268.55 552.42,268.57 557.00,268.40 C561.58,268.23 567.33,267.83 572.50,267.50 C577.67,267.17 583.42,266.83 588.00,266.40 C592.58,265.97 596.33,265.57 600.00,264.90 C603.67,264.23 606.83,263.18 610.00,262.40 C613.17,261.62 616.00,260.95 619.00,260.20 C622.00,259.45 625.00,258.80 628.00,257.90 C631.00,257.00 634.02,255.85 637.00,254.80 C639.98,253.75 642.92,252.80 645.90,251.60 C648.88,250.40 651.90,248.98 654.90,247.60 C657.90,246.22 662.17,244.15 663.90,243.30 C665.63,242.45 665.07,242.63 665.30,242.50" fill="none" stroke="#ecc85a" stroke-width="1.0" stroke-linejoin="round"/>
<text x="539.60" y="333.10" font-size="5.0" text-anchor="middle" font-weight="bold" fill="#000">Distance to Gene (kb)</text>
<text x="387.90" y="246.60" font-size="6.8" text-anchor="middle" font-weight="bold" fill="#000" transform="rotate(-90 387.9 246.6)">PoPS Score</text>
</svg>
</body></html>
